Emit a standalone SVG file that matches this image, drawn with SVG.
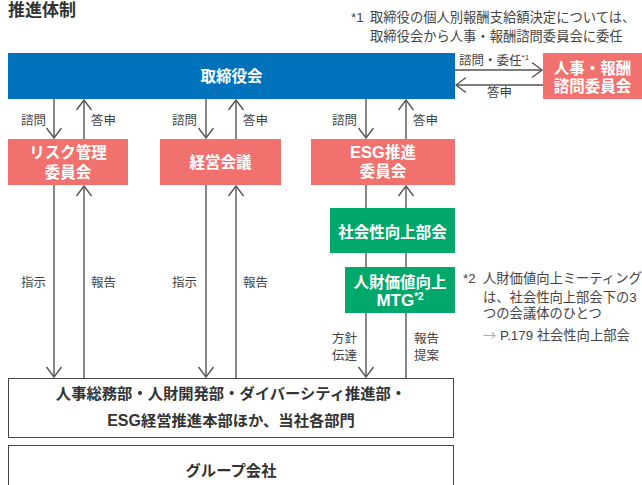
<svg xmlns="http://www.w3.org/2000/svg" width="642" height="485" viewBox="0 0 642 485">
<defs>
<style>
text{font-family:"Liberation Sans","Noto Sans CJK JP",sans-serif;}
.title{font-size:17px;font-weight:bold;fill:#333;}
.note{font-size:13.3px;fill:#444;}
.lbl{font-size:12.5px;fill:#444;}
.bx{font-size:15.5px;font-weight:bold;fill:#fff;text-anchor:middle;}
.dx{font-size:15.3px;font-weight:bold;fill:#333;text-anchor:middle;}
.blue{fill:#0072bc;}
.pink{fill:#f0716e;}
.green{fill:#00a86b;}
.wbox{fill:#fff;stroke:#444;stroke-width:1;}
.ln{stroke:#555;stroke-width:1.4;fill:none;}
.arr{marker-end:url(#ah);}
</style>
<marker id="ah" viewBox="-11 -9 12 18" refX="0" refY="0" markerWidth="12" markerHeight="18" markerUnits="userSpaceOnUse" orient="auto">
<path d="M-10,-7.5 L0,0 L-10,7.5" fill="none" stroke="#555" stroke-width="1.4"/>
</marker>
</defs>

<text class="title" x="8" y="15.5">推進体制</text>
<text class="note" y="22"><tspan x="351">*1</tspan><tspan x="370">取締役の個人別報酬支給額決定については、</tspan></text>
<text class="note" x="370" y="41">取締役会から人事・報酬諮問委員会に委任</text>

<g id="connectors">
<line class="ln arr" x1="455" y1="70" x2="542" y2="70"/>
<line class="ln arr" x1="543" y1="85" x2="456" y2="85"/>
<line class="ln arr" x1="54" y1="99" x2="54" y2="138"/>
<line class="ln arr" x1="84" y1="139" x2="84" y2="100"/>
<line class="ln arr" x1="206" y1="99" x2="206" y2="138"/>
<line class="ln arr" x1="236" y1="139" x2="236" y2="100"/>
<line class="ln arr" x1="366" y1="99" x2="366" y2="138"/>
<line class="ln arr" x1="406" y1="139" x2="406" y2="100"/>
<line class="ln arr" x1="54" y1="185" x2="54" y2="377"/>
<line class="ln arr" x1="84" y1="378" x2="84" y2="186"/>
<line class="ln arr" x1="206" y1="185" x2="206" y2="377"/>
<line class="ln arr" x1="236" y1="378" x2="236" y2="186"/>
<line class="ln" x1="366" y1="185" x2="366" y2="208"/>
<line class="ln arr" x1="406" y1="208" x2="406" y2="186"/>
<line class="ln" x1="366" y1="253" x2="366" y2="267"/>
<line class="ln" x1="406" y1="253" x2="406" y2="267"/>
<line class="ln arr" x1="366" y1="313" x2="366" y2="377"/>
<line class="ln" x1="406" y1="378" x2="406" y2="313"/>
<text class="lbl" x="459" y="64.5">諮問・委任<tspan font-size="8" dy="-5">*1</tspan></text>
<text class="lbl" x="487" y="96.5">答申</text>
<text class="lbl" x="21" y="124.5">諮問</text>
<text class="lbl" x="91" y="124.5">答申</text>
<text class="lbl" x="172" y="124.5">諮問</text>
<text class="lbl" x="243" y="124.5">答申</text>
<text class="lbl" x="332" y="124.5">諮問</text>
<text class="lbl" x="413" y="124.5">答申</text>
<text class="lbl" x="21" y="286.5">指示</text>
<text class="lbl" x="91" y="286.5">報告</text>
<text class="lbl" x="172" y="286.5">指示</text>
<text class="lbl" x="243" y="286.5">報告</text>
<text class="lbl" x="332" y="342.5">方針</text>
<text class="lbl" x="332" y="359.5">伝達</text>
<text class="lbl" x="414" y="342.5">報告</text>
<text class="lbl" x="414" y="359.5">提案</text>
</g>

<g id="board">
<rect class="blue" x="8" y="53" width="447" height="46"/>
<text class="bx" x="231.5" y="82">取締役会</text>
</g>
<g id="compensation">
<rect class="pink" x="543" y="53" width="99" height="46"/>
<text class="bx" x="592.5" y="74">人事・報酬</text>
<text class="bx" x="592.5" y="92">諮問委員会</text>
</g>
<g id="risk">
<rect class="pink" x="8" y="139" width="120" height="46"/>
<text class="bx" x="68" y="158">リスク管理</text>
<text class="bx" x="68" y="178">委員会</text>
</g>
<g id="management">
<rect class="pink" x="160" y="139" width="121" height="46"/>
<text class="bx" x="220.5" y="168">経営会議</text>
</g>
<g id="esg">
<rect class="pink" x="311" y="139" width="144" height="46"/>
<text class="bx" x="383" y="158"><tspan font-size="16.5">ESG</tspan>推進</text>
<text class="bx" x="383" y="177">委員会</text>
</g>
<g id="social">
<rect class="green" x="330" y="208" width="125" height="45"/>
<text class="bx" x="392.5" y="238">社会性向上部会</text>
</g>
<g id="mtg">
<rect class="green" x="345" y="267" width="110" height="46"/>
<text class="bx" x="400" y="288">人財価値向上</text>
<text class="bx" x="400" y="305.5"><tspan font-size="17">MTG</tspan><tspan font-size="10" dy="-6">*2</tspan></text>
</g>
<g id="departments">
<rect class="wbox" x="8.5" y="378.5" width="445" height="59"/>
<text class="dx" x="231" y="399">人事総務部・人財開発部・ダイバーシティ推進部・</text>
<text class="dx" x="231" y="426"><tspan font-size="16">ESG</tspan>経営推進本部ほか、当社各部門</text>
</g>
<g id="group">
<rect class="wbox" x="8.5" y="445.5" width="445" height="50"/>
<text class="dx" x="231" y="476">グループ会社</text>
</g>

<text class="note" y="283"><tspan x="463">*2</tspan><tspan x="483">人財価値向上ミーティング</tspan></text>
<text class="note" x="483" y="302">は、社会性向上部会下の3</text>
<text class="note" x="483" y="318">つの会議体のひとつ</text>
<text class="note" y="340"><tspan x="483" fill="#aaa" font-family="'Noto Sans CJK JP',sans-serif">→</tspan><tspan x="500">P.179 社会性向上部会</tspan></text>
</svg>
